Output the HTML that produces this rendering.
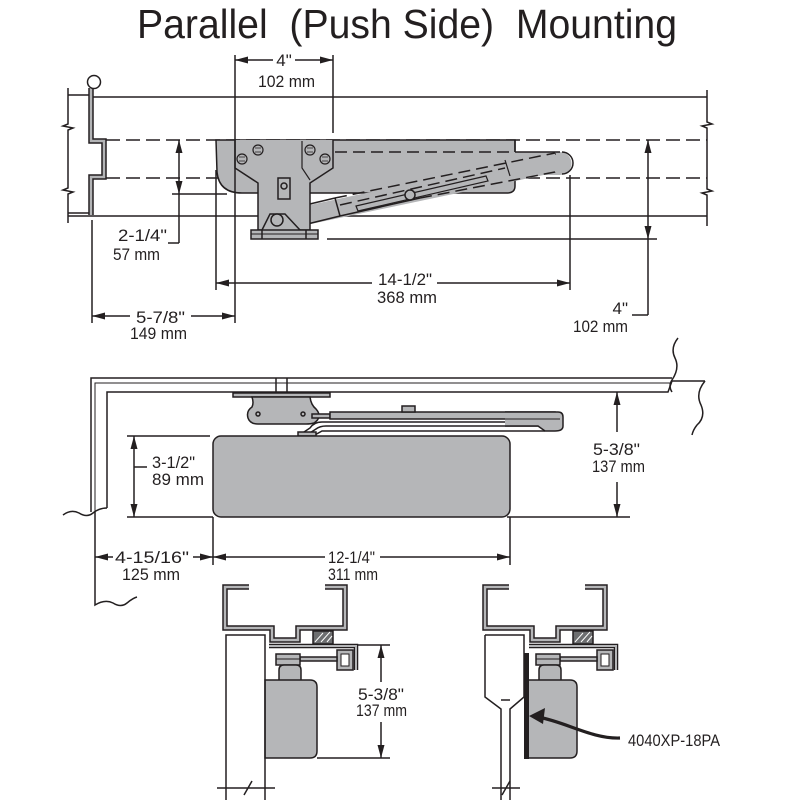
<!DOCTYPE html>
<html><head><meta charset="utf-8"><style>
html,body{margin:0;padding:0;background:#fff;}
svg{display:block;}
text{font-family:"Liberation Sans",sans-serif;fill:#231f20;}
</style></head><body>
<svg width="800" height="800" viewBox="0 0 800 800" xmlns="http://www.w3.org/2000/svg">
<rect width="800" height="800" fill="#fff"/>
<text x="137" y="38" font-size="41" textLength="540" lengthAdjust="spacingAndGlyphs" xml:space="preserve">Parallel  (Push Side)  Mounting</text>

<g stroke="#231f20" fill="none" stroke-width="1.5">
<!-- ============ TOP SECTION ============ -->
<line x1="91" y1="97" x2="707" y2="97"/>
<line x1="68" y1="216" x2="707" y2="216"/>
<line x1="68" y1="95" x2="89" y2="95"/>
<line x1="68" y1="213" x2="89" y2="213"/>
<path d="M68,88 V124 l-5,2 l10,2 l-5,2 V188 l-5,2 l10,2 l-5,2 V223"/>
<path d="M707,90 V122 l5,2 l-10,2 l5,2 V189 l5,2 l-10,2 l5,2 V226"/>
<path d="M91,88 V141 H104 V177 H91 V215" stroke-width="5.5"/>
<path d="M91,88 V141 H104 V177 H91 V215" stroke="#b3b4b6" stroke-width="2.5"/>
<circle cx="94" cy="82" r="6.5" fill="#fff"/>
<line x1="106" y1="140" x2="707" y2="140" stroke-dasharray="14,6"/>
<line x1="106" y1="178" x2="707" y2="178" stroke-dasharray="14,6"/>

<!-- closer body (top view) -->
<path d="M216,140 H515 V186 Q515,193 507,193 H242 Q219,193 217,172 Z" fill="#b5b6b8"/>
<path d="M505,152 H560 A11.5,11.5 0 0 1 560,175 H505 Z" fill="#b5b6b8" stroke="none"/>
<line x1="515" y1="152" x2="560" y2="152"/>
<line x1="515" y1="140" x2="515" y2="152"/>
<line x1="335" y1="152" x2="515" y2="152" stroke-dasharray="12,6"/>
<path d="M562,152 A11,11 0 0 1 562,174" />
<path d="M556,154 A9,9 0 0 0 556,172" />
<!-- forearm -->
<path d="M272,213 L555,153 L558,172 L287,229 Z" fill="#b5b6b8" stroke="none"/>
<path d="M272,213 L335,198"/>
<path d="M287,229 L340,216"/>
<path d="M335,198 L340,216"/>
<path d="M340,216 L420,198"/>
<path d="M335,198 L555,153" stroke-dasharray="12,6"/>
<path d="M340,205 L505,168" stroke-dasharray="12,6"/>
<path d="M420,198 L555,172" stroke-dasharray="12,6"/>
<path d="M505,160 L510,176" stroke-width="1.2"/>
<path d="M356,206 L486,176 L488,181 L358,211 Z" stroke-width="1.2"/>
<circle cx="410" cy="195" r="5" fill="#b5b6b8"/>
<!-- bracket -->
<path d="M235,140 V168 L258,183 V230 H310 V183 L333,168 V140" fill="#b5b6b8"/>
<path d="M302,141 V168 L310,180" stroke-width="1.2"/>
<rect x="278" y="178" width="12" height="21" fill="#b5b6b8"/>
<circle cx="284" cy="186" r="3"/>
<g fill="#b5b6b8" stroke-width="1.2">
<circle cx="242" cy="159" r="5"/><circle cx="258" cy="150" r="5"/>
<circle cx="310" cy="150" r="5"/><circle cx="325" cy="159" r="5"/>
</g>
<g stroke-width="0.8">
<path d="M239,157 h6 M239,161 h6 M255,148 h6 M255,152 h6 M307,148 h6 M307,152 h6 M322,157 h6 M322,161 h6"/>
</g>
<path d="M262,230 L270,214 L285,214 L300,230" fill="#b5b6b8"/>
<circle cx="277" cy="220" r="6" fill="#b5b6b8"/>
<rect x="251" y="230" width="67" height="9" fill="#b5b6b8"/>
<line x1="262" y1="230" x2="262" y2="239"/>
<line x1="306" y1="230" x2="306" y2="239"/>
<line x1="251" y1="234" x2="318" y2="234" stroke-width="1"/>

<!-- top dims -->
<line x1="235" y1="55" x2="235" y2="323"/>
<line x1="333" y1="55" x2="333" y2="133"/>
<line x1="235" y1="60" x2="273" y2="60"/>
<line x1="295" y1="60" x2="333" y2="60"/>
<line x1="179" y1="140" x2="179" y2="243"/>
<line x1="172" y1="194" x2="227" y2="194"/>
<line x1="168" y1="243" x2="179" y2="243"/>
<line x1="216" y1="170" x2="216" y2="290"/>
<line x1="570" y1="175" x2="570" y2="290"/>
<line x1="216" y1="283" x2="372" y2="283"/>
<line x1="437" y1="283" x2="570" y2="283"/>
<line x1="92" y1="220" x2="92" y2="323"/>
<line x1="92" y1="316" x2="130" y2="316"/>
<line x1="191" y1="316" x2="235" y2="316"/>
<line x1="327" y1="239" x2="657" y2="239"/>
<line x1="648" y1="140" x2="648" y2="315"/>
<line x1="632" y1="315" x2="648" y2="315"/>

<!-- ============ MIDDLE SECTION ============ -->
<path d="M91,512 V378 H672"/>
<path d="M95,512 V383 H672" stroke-width="1"/>
<path d="M93,385 V512 M93,380 H672" stroke="#fff" stroke-width="1.5" stroke-dasharray="3,12"/>
<path d="M107,508 V392 H668 L672,381 H705"/>
<path d="M63,515 q8,-6 16,-2 q8,5 14,0 q6,-5 14,-5"/>
<path d="M95,512 V605 q10,-6 18,-2 q8,5 14,0 q6,-5 10,-6"/>
<path d="M678,338 q-8,10 -3,20 q5,10 -3,22 q-4,6 0,12"/>
<path d="M705,381 q-10,12 -4,24 q5,12 -4,20 q-4,5 -5,10"/>

<line x1="276" y1="378" x2="276" y2="393"/>
<line x1="287" y1="378" x2="287" y2="393"/>
<rect x="233" y="393" width="97" height="4" fill="#b5b6b8"/>
<path d="M252,397 H310 Q311,405 316,409 Q323,417 314,423 Q311,424 306,424 H258 Q250,424 248,418 Q246,411 252,407 Q254,403 252,397 Z" fill="#b5b6b8"/>
<circle cx="258" cy="414" r="2"/><circle cx="303" cy="414" r="2"/>
<rect x="312" y="414" width="18" height="4" fill="#b5b6b8"/>
<rect x="330" y="412" width="225" height="7" fill="#b5b6b8"/>
<rect x="402" y="406" width="13" height="6" fill="#b5b6b8"/>
<path d="M298,436 L310,428 Q314,422 322,422 H555" />
<path d="M305,436 L316,429 Q320,426 326,426 H550"/>
<path d="M313,436 L322,431 H545"/>
<rect x="298" y="432" width="18" height="4" fill="#b5b6b8"/>
<path d="M505,412 H558 Q563,412 563,417 V426 Q563,431 555,431 H545 L538,426 H505" fill="#b5b6b8"/>
<line x1="505" y1="419" x2="560" y2="419" stroke-width="1"/>
<rect x="213" y="436" width="297" height="81" rx="8" fill="#b5b6b8"/>

<line x1="127" y1="436" x2="210" y2="436"/>
<line x1="127" y1="517" x2="213" y2="517"/>
<line x1="134" y1="436" x2="134" y2="517"/>
<line x1="134" y1="467" x2="147" y2="467"/>
<line x1="617" y1="392" x2="617" y2="432"/>
<line x1="617" y1="482" x2="617" y2="517"/>
<line x1="507" y1="517" x2="630" y2="517"/>
<line x1="213" y1="517" x2="213" y2="565"/>
<line x1="510" y1="517" x2="510" y2="565"/>
<line x1="95" y1="557" x2="113" y2="557"/>
<line x1="193" y1="557" x2="325" y2="557"/>
<line x1="380" y1="557" x2="510" y2="557"/>

<!-- ============ BOTTOM LEFT DETAIL ============ -->
<g id="hat">
<path d="M249,587 H225 V628 H272 V640 H298 V628 H345 V587 H325" stroke-width="5.5"/>
<path d="M249,587 H225 V628 H272 V640 H298 V628 H345 V587 H325" stroke="#b5b6b8" stroke-width="2.5"/>
<rect x="313" y="631" width="20" height="13" fill="#6d6e70"/>
<path d="M315,642 l8,-9 M321,642 l9,-10 M327,642 l5,-6" stroke="#fff" stroke-width="1"/>
<path d="M269,646 H356 V670" stroke-width="4.5"/>
<path d="M269,646 H356 V670" stroke="#b5b6b8" stroke-width="2"/>
<rect x="337" y="650" width="16" height="20" fill="#b5b6b8"/>
<rect x="341" y="654" width="8" height="12" fill="#fff" stroke-width="1"/>
<rect x="300" y="657" width="37" height="4" fill="#b5b6b8"/>
<rect x="276" y="654" width="24" height="11" fill="#b5b6b8"/>
<path d="M279,680 V670 Q279,665 284,665 H296 Q301,665 301,670 V680" fill="#b5b6b8"/>
<line x1="276" y1="659" x2="300" y2="659" stroke-width="1"/>
<path d="M265,680 H310 Q317,680 317,687 V751 Q317,758 310,758 H265 Z" fill="#b5b6b8"/>
</g>
<path d="M226,800 V635 H265 V800"/>
<path d="M217,788 H275 M244,795 l8,-14"/>
<line x1="381" y1="645" x2="381" y2="682"/>
<line x1="381" y1="722" x2="381" y2="758"/>
<line x1="358" y1="645" x2="390" y2="645"/>
<line x1="317" y1="758" x2="390" y2="758"/>

<!-- ============ BOTTOM RIGHT DETAIL ============ -->
<use href="#hat" transform="translate(260,0)"/>
<path d="M485,635 H524 V697 L510,709 V800 M485,635 V697 L501,709 V800 M501,700 H510"/>
<path d="M492,788 H520 M502,795 l8,-14"/>
<rect x="524" y="653" width="5" height="106" fill="#231f20" stroke="none"/>
<path d="M620,738 C592,739 566,722 538,717" stroke-width="3.2"/>
</g>

<g fill="#231f20">
<polygon points="235,60 248,56.5 248,63.5"/>
<polygon points="333,60 320,56.5 320,63.5"/>
<polygon points="179,140 175.5,153 182.5,153"/>
<polygon points="179,194 175.5,181 182.5,181"/>
<polygon points="216,283 229,279.5 229,286.5"/>
<polygon points="570,283 557,279.5 557,286.5"/>
<polygon points="92,316 105,312.5 105,319.5"/>
<polygon points="235,316 222,312.5 222,319.5"/>
<polygon points="648,140 644.5,153 651.5,153"/>
<polygon points="648,239 644.5,226 651.5,226"/>
<polygon points="134,436 130.5,449 137.5,449"/>
<polygon points="134,517 130.5,504 137.5,504"/>
<polygon points="617,392 613.5,405 620.5,405"/>
<polygon points="617,517 613.5,504 620.5,504"/>
<polygon points="95,557 108,553.5 108,560.5"/>
<polygon points="213,557 200,553.5 200,560.5"/>
<polygon points="213,557 226,553.5 226,560.5"/>
<polygon points="510,557 497,553.5 497,560.5"/>
<polygon points="381,645 377.5,658 384.5,658"/>
<polygon points="381,758 377.5,745 384.5,745"/>
<polygon points="529,716 545,708 543,724"/>
</g>

<g font-size="17">
<text x="284" y="66" text-anchor="middle">4"</text>
<text x="258" y="87" textLength="57" lengthAdjust="spacingAndGlyphs">102 mm</text>
<text x="118" y="241" textLength="49" lengthAdjust="spacingAndGlyphs">2-1/4"</text>
<text x="113" y="260" textLength="47" lengthAdjust="spacingAndGlyphs">57 mm</text>
<text x="378" y="285" textLength="54" lengthAdjust="spacingAndGlyphs">14-1/2"</text>
<text x="377" y="303" textLength="60" lengthAdjust="spacingAndGlyphs">368 mm</text>
<text x="136" y="323" textLength="49" lengthAdjust="spacingAndGlyphs">5-7/8"</text>
<text x="130" y="339" textLength="57" lengthAdjust="spacingAndGlyphs">149 mm</text>
<text x="628" y="314" text-anchor="end">4"</text>
<text x="573" y="332" textLength="55" lengthAdjust="spacingAndGlyphs">102 mm</text>
<text x="152" y="468" textLength="43" lengthAdjust="spacingAndGlyphs">3-1/2"</text>
<text x="152" y="485" textLength="52" lengthAdjust="spacingAndGlyphs">89 mm</text>
<text x="115" y="563" textLength="74" lengthAdjust="spacingAndGlyphs">4-15/16"</text>
<text x="122" y="580" textLength="58" lengthAdjust="spacingAndGlyphs">125 mm</text>
<text x="328" y="563" textLength="47" lengthAdjust="spacingAndGlyphs">12-1/4"</text>
<text x="328" y="580" textLength="50" lengthAdjust="spacingAndGlyphs">311 mm</text>
<text x="593" y="455" textLength="47" lengthAdjust="spacingAndGlyphs">5-3/8"</text>
<text x="592" y="472" textLength="53" lengthAdjust="spacingAndGlyphs">137 mm</text>
<text x="358" y="700" textLength="46" lengthAdjust="spacingAndGlyphs">5-3/8"</text>
<text x="356" y="716" textLength="51" lengthAdjust="spacingAndGlyphs">137 mm</text>
<text x="628" y="746" textLength="92" lengthAdjust="spacingAndGlyphs">4040XP-18PA</text>
</g>
</svg>
</body></html>
